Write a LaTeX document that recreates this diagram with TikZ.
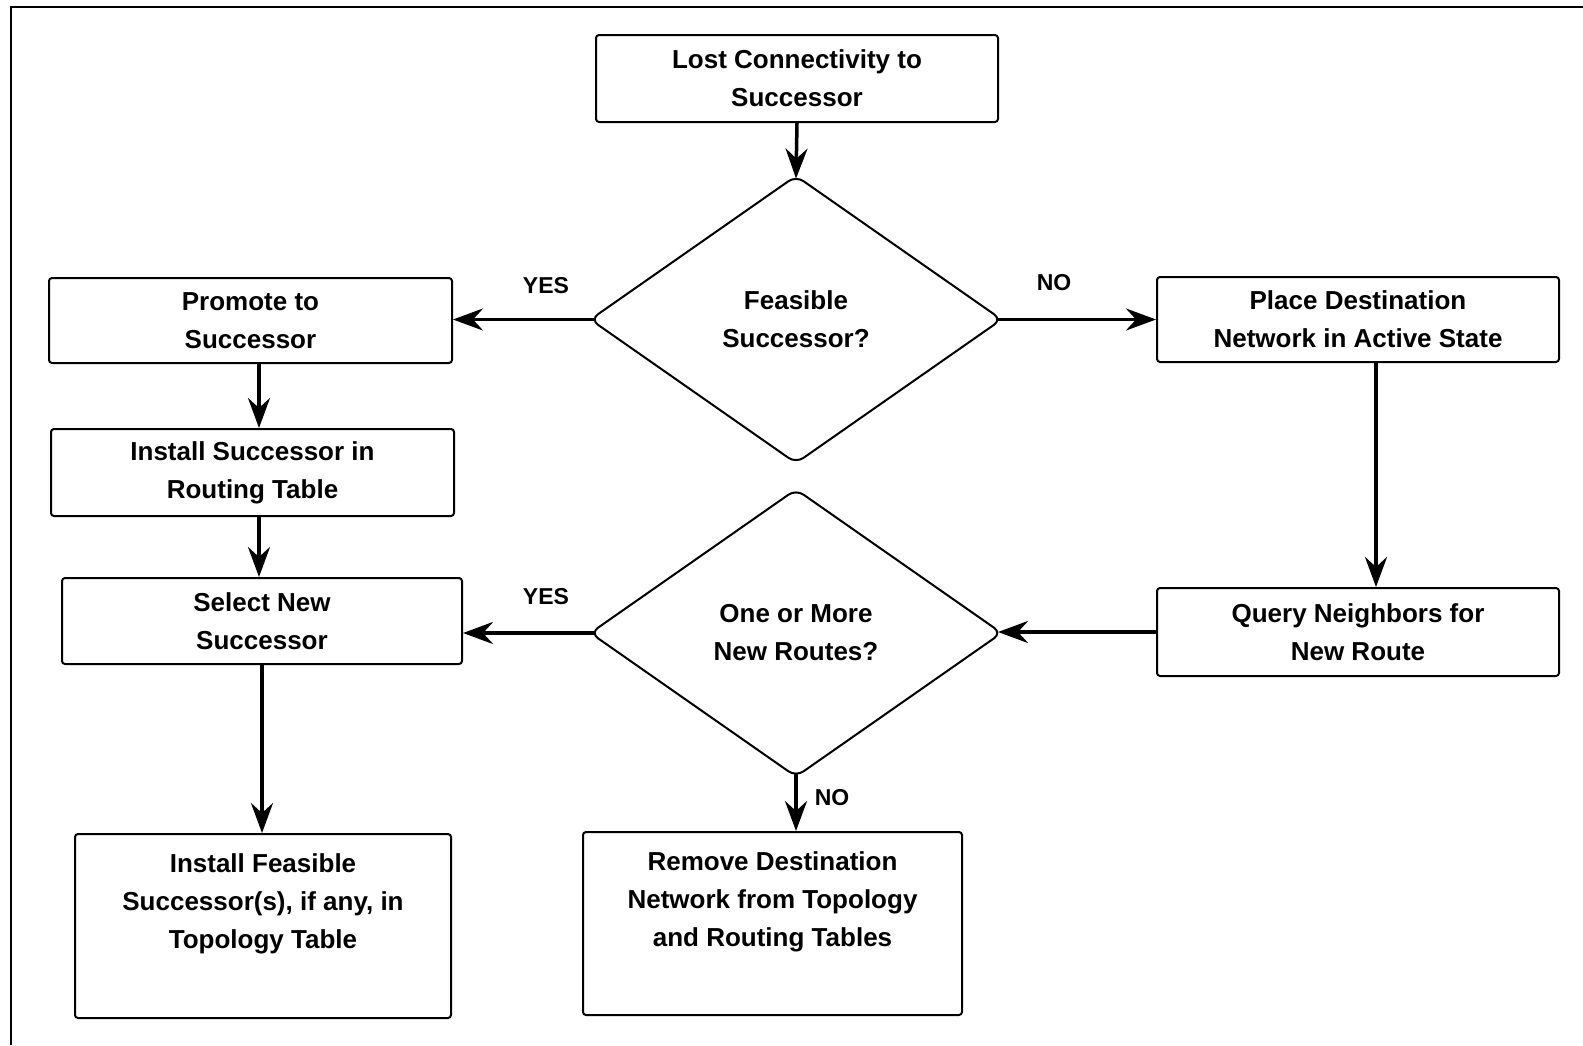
\documentclass[tikz,border=0pt]{standalone}
\usepackage{fontspec}
\setmainfont{Liberation Sans}
\usetikzlibrary{shapes.geometric,arrows.meta}
\begin{document}
\begin{tikzpicture}[x=1pt,y=-1pt,
  txt/.style={font=\bfseries\fontsize{26}{38}\selectfont},
  box/.style={txt, draw, line width=2pt, rounded corners=3pt, align=center, inner sep=0pt},
  dec/.style={txt, draw, diamond, line width=2pt, rounded corners=9pt, align=center, inner sep=0pt,
     minimum width=412pt, minimum height=288pt, aspect=1.43},
  conn/.style={line width=3.5pt, -{Stealth[length=30pt,width=22pt,inset=10pt]}},
  lbl/.style={font=\bfseries\fontsize{23}{28}\selectfont}]
\useasboundingbox (0,0) rectangle (1583,1045);
\draw[line width=2pt] (11,1045) -- (11,7) -- (1583,7);

\node[box, minimum width=402pt, minimum height=87pt] (lost) at (797,78.5) {Lost Connectivity to\\Successor};
\node[dec] (d1) at (796,319.5) {Feasible\\Successor?};
\node[box, minimum width=403pt, minimum height=85pt] (promote) at (250.5,320.5) {Promote to\\Successor};
\node[box, minimum width=402pt, minimum height=85pt] (place) at (1358,319.5) {Place Destination\\Network in Active State};
\node[box, minimum width=403pt, minimum height=87pt] (isucc) at (252.5,472.5) {Install Successor in\\Routing Table};
\node[box, minimum width=400pt, minimum height=86pt] (select) at (262,621) {Select New\\Successor};
\node[dec] (d2) at (796,633) {One or More\\New Routes?};
\node[box, minimum width=402pt, minimum height=88pt] (query) at (1358,632) {Query Neighbors for\\New Route};
\node[box, minimum width=376pt, minimum height=184pt] (ifeas) at (263,926) {Install Feasible\\Successor(s), if any, in\\Topology Table\\\strut};
\node[box, minimum width=379pt, minimum height=183pt] (remove) at (772.5,923.5) {Remove Destination\\Network from Topology\\and Routing Tables\\\strut};

\draw[conn] (lost.south) -- ([yshift=-4pt]d1.north);
\draw[conn] ([xshift=6pt]d1.west) -- (d1.west -| promote.east);
\draw[conn] ([xshift=-6pt]d1.east) -- (d1.east -| place.west);
\draw[conn] ([xshift=8.5pt]promote.south) -- ([xshift=8.5pt]promote.south |- isucc.north);
\draw[conn] ([xshift=6.5pt]isucc.south) -- ([xshift=6.5pt]isucc.south |- select.north);
\draw[conn] (select.south) -- (select.south |- ifeas.north);
\draw[conn] ([xshift=18pt]place.south) -- ([xshift=18pt]place.south |- query.north);
\draw[conn] (query.west) -- ([xshift=-5pt]query.west -| d2.east);
\draw[conn] ([xshift=6pt]d2.west) -- (d2.west -| select.east);
\draw[conn] ([yshift=4pt]d2.south) -- (d2.south |- remove.north);

\node[lbl] (yes1) at (546,286) {YES};
\node[lbl] (no1) at (1054,283) {NO};
\node[lbl] (yes2) at (546,597) {YES};
\node[lbl] (no2) at (832,798) {NO};
\end{tikzpicture}
\end{document}
